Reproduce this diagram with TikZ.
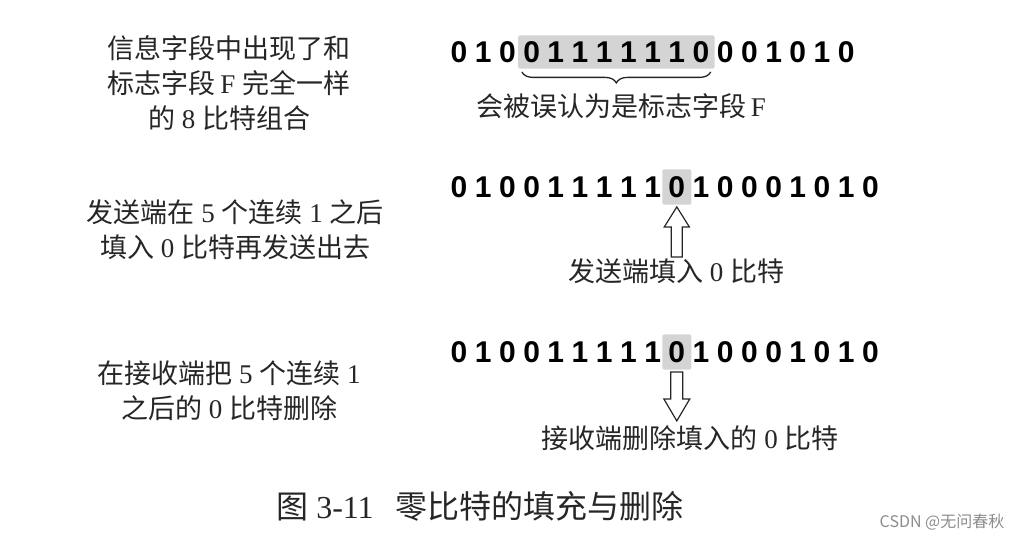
\documentclass[tikz,border=0pt]{standalone}
\usepackage{fontspec}
\setmainfont{Liberation Serif}
\newfontfamily\cjk{Noto Sans CJK SC}
\newfontfamily\bitfont{Liberation Sans}
\usetikzlibrary{fit,backgrounds,calc,decorations.pathreplacing}
\newcommand\C[1]{{\cjk #1}}
\tikzset{
  bit/.style={font=\bitfont\bfseries\fontsize{30}{30}\selectfont, inner sep=0pt, text height=21pt, text depth=0pt},
  hl/.style={fill=black!17, draw=none, rounded corners=2pt, inner sep=0pt},
  txt/.style={font=\fontsize{27}{35}\selectfont, align=center, inner sep=0pt, text=black!85},
  hollow/.style={draw=black!85, line width=1.2pt, fill=white, line join=miter},
}
\begin{document}
\begin{tikzpicture}[x=1pt,y=-1pt]
\useasboundingbox (0,0) rectangle (1024,540);

% ---- row 1 ----
\foreach \b [count=\i from 0] in {0,1,0,0,1,1,1,1,1,1,0,0,0,1,0,1,0}
  \node[bit] (r1b\i) at ({459+24.2*\i},52) {\b};
\begin{scope}[on background layer]
  \node[hl, fit=(r1b3)(r1b10), inner xsep=5pt, inner ysep=6pt] (hl1) {};
\end{scope}
\coordinate (br1a) at ($(hl1.south west)+(4,3)$);
\coordinate (br1b) at ($(hl1.south east)+(-4,3)$);
\draw[black!85, line width=1.3pt, decorate, decoration={brace, mirror, amplitude=11pt}] (br1a) -- (br1b);
\node[txt] (lab1) at (621,106) {\C{会被误认为是标志字段}\,F};

\node[txt] (left1) at (229,83) {\C{信息字段中出现了和}\\ \C{标志字段}\,F \C{完全一样}\\ \C{的} 8 \C{比特组合}};

% ---- row 2 ----
\foreach \b [count=\i from 0] in {0,1,0,0,1,1,1,1,1,0,1,0,0,0,1,0,1,0}
  \node[bit] (r2b\i) at ({459+24.2*\i},187) {\b};
\begin{scope}[on background layer]
  \node[hl, fit=(r2b9), inner xsep=6pt, inner ysep=7pt] (hl2) {};
\end{scope}
\node[txt] (lab2) at (676,271) {\C{发送端填入} 0 \C{比特}};
\coordinate (a2tip) at ($(hl2.south)+(0,2)$);
\draw[hollow] (a2tip) -- ++(12.5,20) -- ++(-7,0) -- ++(0,30) -- ++(-11,0) -- ++(0,-30) -- ++(-7,0) -- cycle;

\node[txt] (left2) at (235,230) {\C{发送端在} 5 \C{个连续} 1 \C{之后}\\ \C{填入} 0 \C{比特再发送出去}};

% ---- row 3 ----
\foreach \b [count=\i from 0] in {0,1,0,0,1,1,1,1,1,0,1,0,0,0,1,0,1,0}
  \node[bit] (r3b\i) at ({459+24.2*\i},352) {\b};
\begin{scope}[on background layer]
  \node[hl, fit=(r3b9), inner xsep=6pt, inner ysep=7pt] (hl3) {};
\end{scope}
\node[txt] (lab3) at (690,438) {\C{接收端删除填入的} 0 \C{比特}};
\coordinate (a3top) at ($(hl3.south)+(0,2)$);
\draw[hollow] ($(a3top)+(-6,0)$) -- ++(12,0) -- ++(0,27) -- ++(7,0) -- ++(-13,22) -- ++(-13,-22) -- ++(7,0) -- cycle;

\node[txt] (left3) at (229,391) {\C{在接收端把} 5 \C{个连续} 1\\ \C{之后的} 0 \C{比特删除}};

% ---- caption ----
\node[txt, font=\fontsize{32}{32}\selectfont] (cap) at (480,506) {\C{图} 3-11\hspace{22pt}\C{零比特的填充与删除}};
\node[font=\cjk\fontsize{16}{16}\selectfont, text=black!45, inner sep=0pt] (wm) at (942,522) {CSDN @无问春秋};
\end{tikzpicture}
\end{document}
